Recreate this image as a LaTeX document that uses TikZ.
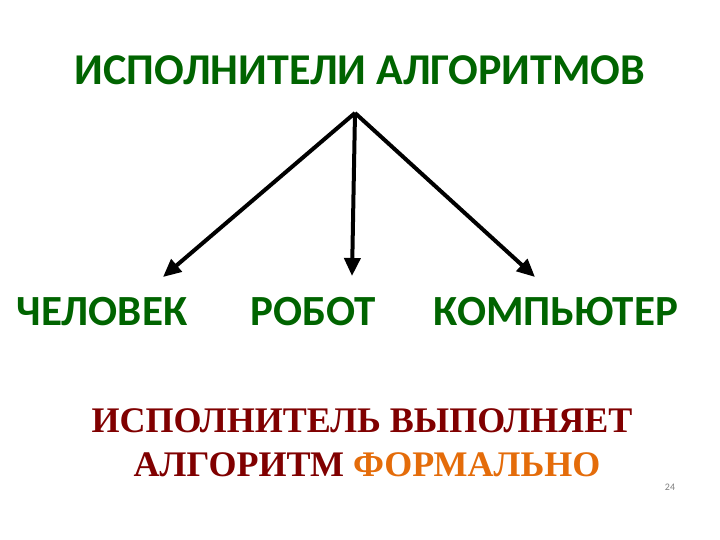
\documentclass[tikz,border=0pt]{standalone}
\usepackage{fontspec}
\setmainfont{Liberation Serif}
\newfontfamily\carl{Carlito}
\usetikzlibrary{arrows.meta}
\definecolor{dred}{RGB}{128,0,0}
\definecolor{orng}{RGB}{228,108,10}
\definecolor{dgreen}{RGB}{0,100,0}
\begin{document}
\begin{tikzpicture}[x=1pt,y=-1pt,
  head/.style={font=\carl\bfseries\fontsize{43}{50}\selectfont, text=dgreen, inner sep=0pt, anchor=center},
  note/.style={font=\bfseries\fontsize{36}{42}\selectfont, inner sep=0pt, text=dred, anchor=center},
  conn/.style={line width=4pt, -{Triangle[length=18pt,width=16pt]}}]
\useasboundingbox[fill=white] (0,0) rectangle (720,540);
\node[head, font=\carl\bfseries\fontsize{44}{50}\selectfont] (title) at (360,70) {ИСПОЛНИТЕЛИ АЛГОРИТМОВ};
\coordinate (apex) at (355,113);
\coordinate (eL) at (163,277);
\coordinate (eM) at (352,276);
\coordinate (eR) at (535,277);
\node[head] (chel) at (102,312) {ЧЕЛОВЕК};
\node[head] (rob) at (313,312) {РОБОТ};
\node[head] (comp) at (556,312) {КОМПЬЮТЕР};
\draw[conn] (apex) -- (eL);
\draw[conn] (apex) -- (eM);
\draw[conn] (apex) -- (eR);
\node[note] (l1) at (362,421) {ИСПОЛНИТЕЛЬ ВЫПОЛНЯЕТ};
\node[note] (l2) at (367,465) {АЛГОРИТМ \textcolor{orng}{ФОРМАЛЬНО}};
\node[font=\carl\fontsize{10}{12}\selectfont, text=gray, inner sep=0pt] (pg) at (670,487) {24};
\end{tikzpicture}
\end{document}
